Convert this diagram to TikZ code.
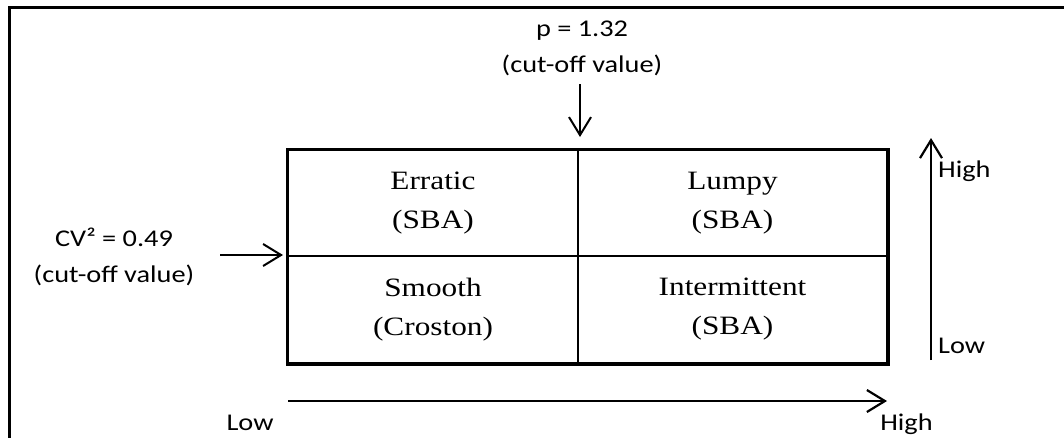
\documentclass[tikz,border=0pt]{standalone}
\usepackage{fontspec}
\setmainfont{Liberation Serif}[FakeStretch=1.18]
\newfontfamily\labfont{Carlito}[FakeStretch=1.18]
\usetikzlibrary{arrows.meta}
\tikzset{
  frameline/.style={line width=3pt, line cap=rect},
  cellbox/.style={draw, line width=2pt, inner sep=0pt, align=center,
    font=\fontsize{26.5}{39}\selectfont},
  outerline/.style={line width=3pt},
  lab/.style={inner sep=0pt, align=center, font=\labfont\fontsize{24}{36}\selectfont},
  axis/.style={line width=2.4pt, -{Straight Barb[length=18pt,width=22pt,line width=2.2pt]}},
  cutarrow/.style={line width=2pt, -{Straight Barb[length=18pt,width=22pt,line width=2pt]}}
}
\begin{document}
\begin{tikzpicture}[x=1pt, y=-1pt]
  \useasboundingbox (0,0) rectangle (1064,437);
  % open frame: top edge and left edge only
  \draw[frameline] (1064,7.5) -- (9.5,7.5) -- (9.5,437);

  % the four demand classes
  \node[cellbox, minimum width=290pt, minimum height=106pt] (erratic) at (433,203)
    {Erratic\\(SBA)};
  \node[cellbox, minimum width=309pt, minimum height=106pt] (lumpy) at (732.5,203)
    {Lumpy\\(SBA)};
  \node[cellbox, minimum width=290pt, minimum height=107pt] (smooth) at (433,309.5)
    {Smooth\\(Croston)};
  \node[cellbox, minimum width=309pt, minimum height=107pt] (intermittent) at (732.5,309.5)
    {Intermittent\\(SBA)};
  \draw[outerline] (erratic.north west) rectangle (intermittent.south east);

  % cut-off values (base anchor sits on the last line)
  \node[lab, anchor=base] (pcut) at (582,72) {p = 1.32\\(cut-off value)};
  \node[lab, anchor=base] (cvcut) at (114,282) {CV² = 0.49\\(cut-off value)};
  \coordinate (ptail) at (580,84);
  \coordinate (ptip) at (580,137);
  \coordinate (cvtail) at (220,255);
  \coordinate (cvtip) at (283,255);
  \draw[cutarrow] (ptail) -- (ptip);
  \draw[cutarrow] (cvtail) -- (cvtip);

  % axes
  \coordinate (xstart) at (288,401);
  \coordinate (xend) at (887,401);
  \coordinate (ystart) at (931,360);
  \coordinate (yend) at (931,138);
  \draw[axis] (xstart) -- (xend);
  \draw[axis] (ystart) -- (yend);
  \node[lab, anchor=base] (xlow) at (250,430) {Low};
  \node[lab, anchor=base] (xhigh) at (906.5,430) {High};
  \node[lab, anchor=base west] (yhigh) at (938,177) {High};
  \node[lab, anchor=base west] (ylow) at (938,353) {Low};
\end{tikzpicture}
\end{document}
